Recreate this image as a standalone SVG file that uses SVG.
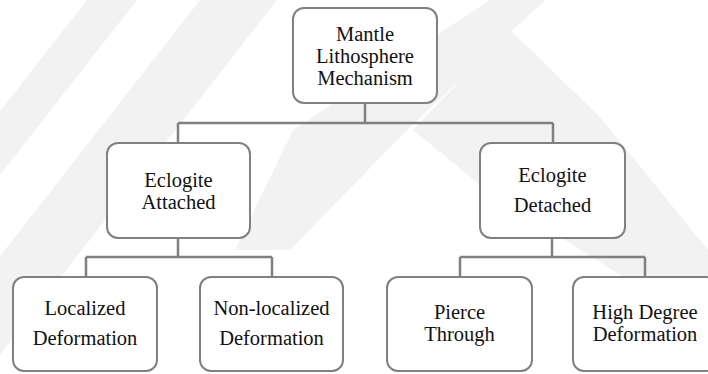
<svg xmlns="http://www.w3.org/2000/svg" width="708" height="374" viewBox="0 0 708 374">
<style>
.wm{fill:#f2f2f2}
.box{fill:#fff;stroke:#808080;stroke-width:2}
.con{fill:none;stroke:#808080;stroke-width:2.5}
.t{font-family:'Liberation Serif','Times New Roman','DejaVu Serif',serif;font-size:20.5px;fill:#111;text-anchor:middle}
</style>
<rect width="708" height="374" fill="#fff"/>
<g id="watermark">
<polygon class="wm" points="200,0 277,0 -15,374 -92,374"/>
<polygon class="wm" points="87,0 137,0 0,175 0,111"/>
<polygon class="wm" points="490,0 545,0 407,130 290,250 235,250 293,130"/>
<polygon class="wm" points="510,30 600,117 708,250 708,330 490,193 413,130 470,70"/>
</g>
<g id="connectors">
<path class="con" d="M365,103V123M178,123H553M178,123V143M553,123V143"/>
<path class="con" d="M178,238V257M86,257H272M86,257V277M272,257V277"/>
<path class="con" d="M552,238V257M460,257H645M460,257V277M645,257V277"/>
</g>
<g id="n-root" class="t" font-family="Liberation Serif, serif">
<rect class="box" x="293" y="8" width="144" height="95" rx="11"/>
<text x="365" y="41">Mantle</text>
<text x="365" y="63">Lithosphere</text>
<text x="365" y="85">Mechanism</text>
</g>
<g id="n-attached" class="t" font-family="Liberation Serif, serif">
<rect class="box" x="107" y="143" width="143" height="95" rx="11"/>
<text x="178.5" y="187">Eclogite</text>
<text x="178.5" y="209">Attached</text>
</g>
<g id="n-detached" class="t" font-family="Liberation Serif, serif">
<rect class="box" x="480" y="143" width="145" height="95" rx="11"/>
<text x="552.5" y="182">Eclogite</text>
<text x="552.5" y="212">Detached</text>
</g>
<g id="n-localized" class="t" font-family="Liberation Serif, serif">
<rect class="box" x="13" y="277" width="144" height="94" rx="11"/>
<text x="85" y="315">Localized</text>
<text x="85" y="345">Deformation</text>
</g>
<g id="n-nonlocalized" class="t" font-family="Liberation Serif, serif">
<rect class="box" x="200" y="277" width="143" height="94" rx="11"/>
<text x="271.5" y="315">Non-localized</text>
<text x="271.5" y="345">Deformation</text>
</g>
<g id="n-pierce" class="t" font-family="Liberation Serif, serif">
<rect class="box" x="387" y="277" width="145" height="94" rx="11"/>
<text x="459.5" y="319">Pierce</text>
<text x="459.5" y="341">Through</text>
</g>
<g id="n-highdegree" class="t" font-family="Liberation Serif, serif">
<rect class="box" x="573" y="277" width="144" height="94" rx="11"/>
<text x="645" y="319">High Degree</text>
<text x="645" y="341">Deformation</text>
</g>
</svg>
